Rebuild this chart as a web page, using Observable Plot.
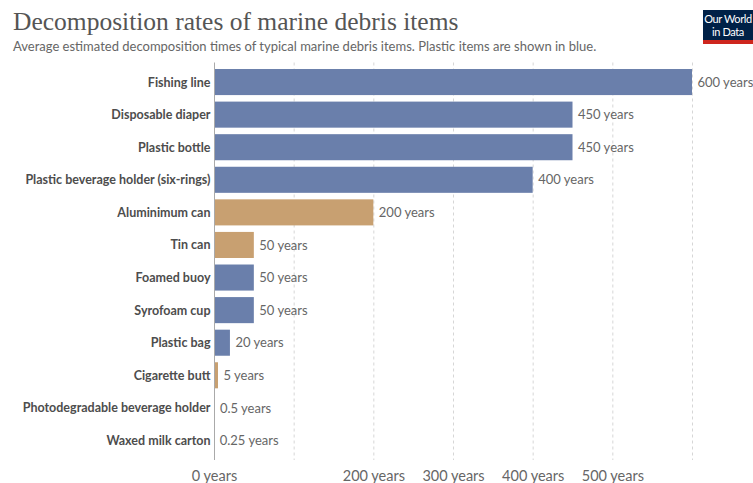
<!DOCTYPE html>
<html>
<head>
<meta charset="utf-8">
<script src="https://cdn.jsdelivr.net/npm/d3@7"></script>
<script src="https://cdn.jsdelivr.net/npm/@observablehq/plot@0.6"></script>
<style>
  html, body { margin: 0; padding: 0; background: #fff; width: 753px; height: 483px; overflow: hidden; }
  #header { position: relative; height: 60px; }
  #title { position: absolute; left: 13px; top: 7px; font-family: "Liberation Serif", "DejaVu Serif", serif; font-size: 25.5px; color: #555; white-space: nowrap; }
  #subtitle { position: absolute; left: 13px; top: 38px; font-family: Lato, "Noto Sans", sans-serif; font-size: 13px; color: #666; white-space: nowrap; }
  #logo { position: absolute; left: 703px; top: 10px; width: 56px; height: 34px; background: #002147; border-bottom: 4px solid #ce261e; box-sizing: border-box; color: #fff; font-family: Lato, "Noto Sans", sans-serif; }
  #logo span { position: absolute; left: 0; width: 50px; text-align: center; font-size: 11px; letter-spacing: -0.4px; line-height: 12px; white-space: nowrap; }
  #chart svg { display: block; }
</style>
</head>
<body>
<div id="header">
  <div id="title">Decomposition rates of marine debris items</div>
  <div id="subtitle">Average estimated decomposition times of typical marine debris items. Plastic items are shown in blue.</div>
  <div id="logo"><span style="top:3px">Our World</span><span style="top:16px">in Data</span></div>
</div>
<div id="chart"></div>
<script>
// Debris items, decomposition time in years, and whether the item is plastic
const items = [
  "Fishing line",
  "Disposable diaper",
  "Plastic bottle",
  "Plastic beverage holder (six-rings)",
  "Aluminimum can",
  "Tin can",
  "Foamed buoy",
  "Syrofoam cup",
  "Plastic bag",
  "Cigarette butt",
  "Photodegradable beverage holder",
  "Waxed milk carton"
];
const years = [600, 450, 450, 400, 200, 50, 50, 50, 20, 5, 0.5, 0.25];
const plastic = [true, true, true, true, false, false, true, true, true, false, true, false];
const xTicks = [0, 200, 300, 400, 500];
const gridTicks = [100, 200, 300, 400, 500, 600];

const data = items.map((item, i) => ({item, years: years[i], plastic: plastic[i]}));

const blue = "#6a7fab";
const tan = "#c8a071";

const chart = Plot.plot({
  width: 753,
  height: 423,
  marginLeft: 214,
  marginRight: 61,
  marginTop: 2.5,
  marginBottom: 23,
  style: {fontFamily: "Lato, 'Noto Sans', sans-serif", background: "#fff"},
  x: {domain: [0, 600], axis: null, label: null},
  y: {domain: items, padding: 0.2, round: false, axis: null, label: null},
  marks: [
    Plot.gridX(gridTicks, {stroke: "#d6d6d6", strokeOpacity: 1, strokeDasharray: "3,3"}),
    Plot.barX(data, {x: "years", y: "item", fill: d => d.plastic ? blue : tan}),
    Plot.ruleX([0], {stroke: "#aaa", strokeWidth: 1}),
    Plot.text(data, {x: "years", y: "item", text: d => `${d.years} years`, textAnchor: "start", dx: 5, fill: "#666", fontSize: 13}),
    Plot.axisY({tickSize: 0, tickPadding: 4, fontSize: 12.5, fontWeight: "bold", color: "#4d4d4d", label: null}),
    Plot.axisX(xTicks, {tickSize: 0, tickPadding: 10, fontSize: 14.5, color: "#666", label: null, tickFormat: d => `${d} years`})
  ]
});
document.getElementById("chart").appendChild(chart);
</script>
</body>
</html>
